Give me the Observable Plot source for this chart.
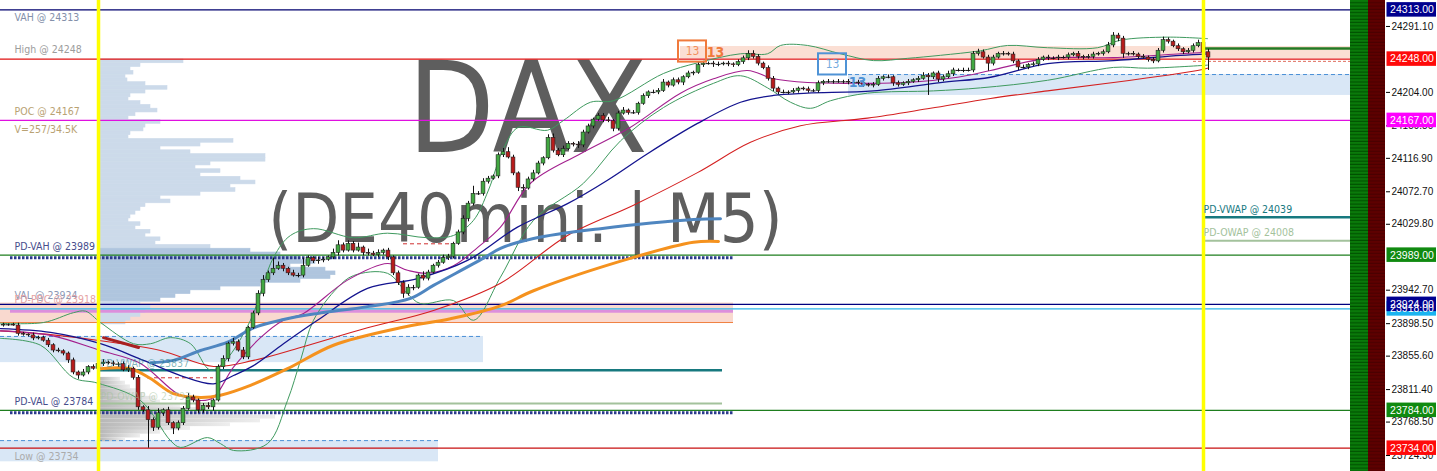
<!DOCTYPE html>
<html>
<head>
<meta charset="utf-8">
<script src="https://cdn.jsdelivr.net/npm/d3@7"></script>
<script src="https://cdn.jsdelivr.net/npm/@observablehq/plot@0.6"></script>
<style>
  html, body { margin: 0; padding: 0; background: #fff; overflow: hidden; }
  #chart svg { display: block; }
  #chart g[aria-label="y-axis tick label"], #chart g[aria-label="y-axis tick label"] text { font-family: 'Liberation Sans', Arial, sans-serif !important; font-size: 10px !important; }
  #chart .axbox, #chart .axbox text { font-family: 'Liberation Sans', Arial, sans-serif !important; font-size: 10.5px !important; }
</style>
</head>
<body>
<div id="chart"></div>
<script>
// ================= DATA =================
// M5 candles, bar index 0..241 ; closes in index points
const closes = [
  23897,23897,23896,23885,23884,23883,23879,23880,23876,23870,
  23863,23862,23859,23850,23834,23830,23834,23841,23839,23845,
  23847,23846,23845,23845,23837,23839,23827,23788,23784,23771,
  23761,23780,23784,23767,23760,23767,23786,23801,23797,23784,
  23790,23788,23797,23841,23852,23872,23874,23863,23854,23893,
  23912,23938,23956,23965,23971,23975,23971,23965,23962,23962,
  23975,23985,23981,23982,23983,23986,23992,24002,23995,24004,
  23995,23999,23992,23991,23989,23992,23995,23986,23965,23952,
  23938,23946,23946,23962,23958,23966,23975,23979,23985,23987,
  24004,24019,24037,24057,24070,24070,24086,24090,24093,24121,
  24125,24118,24097,24078,24077,24089,24097,24110,24117,24144,
  24127,24121,24129,24136,24135,24134,24151,24159,24168,24173,
  24167,24166,24156,24176,24180,24177,24177,24189,24199,24204,
  24204,24206,24217,24213,24220,24217,24224,24229,24230,24240,
  24242,24242,24241,24241,24242,24241,24240,24244,24249,24255,
  24251,24242,24236,24222,24209,24204,24204,24204,24206,24209,
  24208,24206,24206,24216,24218,24218,24218,24218,24218,24217,
  24217,24216,24214,24213,24214,24222,24224,24224,24216,24214,
  24216,24218,24220,24222,24226,24224,24229,24221,24224,24228,
  24233,24233,24233,24233,24255,24257,24250,24242,24250,24255,
  24255,24254,24245,24237,24237,24240,24241,24247,24250,24249,
  24249,24250,24250,24253,24255,24251,24250,24251,24254,24255,
  24257,24266,24279,24275,24255,24255,24254,24251,24250,24247,
  24245,24259,24273,24271,24265,24261,24257,24259,24265,24269,
  24257,24250
];
const firstOpen = 23896;
// wick lengths above / below the body, in index points
const wickUp = [
  2,1,2,3,2,1,3,2,2,3, 2,3,2,2,3,2,4,2,3,3, 4,2,3,2,3,4,2,3,2,5, 3,6,2,4,2,3,3,5,3,2,
  3,4,2,3,4,2,5,3,4,2, 3,4,6,3,14,5,3,2,4,3, 10,3,2,4,3,2,5,6,3,4, 3,6,2,5,3,4,2,3,2,3,
  3,4,3,2,5,3,2,3,4,3, 2,3,4,3,10,3,4,3,2,3, 5,6,3,2,4,3,4,3,2,4, 5,3,4,3,2,4,3,3,2,3,
  3,4,2,3,4,2,3,2,3,2, 3,3,4,2,3,3,2,3,2,3, 3,2,3,3,2,3,2,3,3,4, 4,3,2,3,3,2,3,2,3,2,
  2,3,2,3,2,3,2,3,2,3, 2,3,2,2,3,3,2,3,2,3, 2,3,2,3,4,3,2,3,3,4, 3,2,3,3,3,4,3,3,3,2,
  3,2,3,2,3,2,3,3,2,3, 2,3,2,3,2,3,2,3,3,2, 3,4,4,3,3,2,3,2,3,2, 3,3,4,3,2,3,2,3,3,4,
  10,4
];
const wickDn = [
  2,2,1,3,2,2,3,2,2,3, 3,2,3,4,3,5,2,3,2,3, 3,2,3,4,2,3,3,4,3,37, 5,3,4,3,8,3,3,2,3,4,
  4,3,5,2,3,4,3,2,3,3, 2,3,4,3,3,2,4,3,2,3, 3,2,3,4,3,2,3,4,3,2, 3,2,4,3,2,3,3,4,3,3,
  6,3,4,2,3,3,2,3,2,3, 3,2,3,4,3,2,3,3,2,3, 3,2,3,5,3,2,3,2,3,2, 3,2,3,2,3,4,3,2,3,2,
  3,2,4,3,2,3,2,3,2,3, 2,3,2,3,2,3,4,2,3,2, 3,2,4,3,2,3,3,2,3,3, 3,3,2,3,4,3,2,3,2,3,
  2,3,2,3,3,2,3,2,3,3, 2,3,3,2,3,2,3,2,4,3, 2,3,2,3,2,24,3,4,3,2, 3,2,3,2,3,3,2,10,3,2,
  3,2,3,4,2,3,2,3,2,3, 2,3,2,3,2,3,3,2,3,2, 3,2,3,4,6,3,2,3,2,3, 3,2,3,3,2,3,3,2,3,2,
  3,17
];

// session separators (bar index)
const sessionStarts = [19, 240];

// indicator lines: [bar index, price]
const emaNavy = [[-0.6,23892],[9.4,23887],[19.4,23872],[28,23850],[35.4,23830],[42,23819],[46,23830],[50,23843],[56,23872],[62.8,23903],[72.8,23945],[82.8,23958],[92.8,23982],[102.8,24026],[112.8,24057],[120.8,24088],[128.8,24123],[138.8,24163],[147.4,24191],[154,24200],[160.8,24203],[174,24206],[187.4,24217],[197.4,24224],[208.8,24242],[222,24246],[235.4,24253],[240.8,24255]];
const emaRed = [[-0.6,23889],[9.4,23884],[19.4,23876],[31.4,23863],[42,23842],[50,23850],[59.4,23867],[72.8,23893],[86,23916],[99.4,23952],[112.8,24015],[126,24055],[138.8,24098],[149.4,24138],[159.4,24160],[172.8,24170],[185.4,24183],[197.4,24196],[208.8,24206],[222,24217],[238.8,24233],[240.8,24236]];
const emaPurple = [[-0.6,23889],[9.4,23883],[19.4,23863],[27.4,23846],[34.8,23806],[39.4,23797],[42,23801],[46,23841],[51.4,23880],[56,23903],[60,23912],[68.8,23956],[76.8,23978],[80.8,23969],[84.8,23965],[90,23975],[94.8,23999],[99.4,24026],[105.4,24084],[115.4,24123],[125.4,24158],[135.4,24203],[142,24222],[148.8,24233],[154,24222],[160.8,24217],[170.8,24216],[180.8,24217],[190.8,24224],[197.4,24233],[208.8,24249],[222,24250],[235.4,24255],[240.8,24257]];
const bandUpper = [[-0.6,23899],[8,23900],[14,23913],[16.4,23915],[19.4,23900],[26,23872],[29.4,23872],[33.4,23880],[37.4,23872],[41.4,23837],[44.4,23850],[49.4,23903],[54,23986],[57.4,24015],[62,24024],[70,24012],[76.8,24018],[84.8,24012],[90,24015],[94,24035],[97,24075],[100,24130],[103,24158],[108.8,24154],[112,24167],[117.4,24191],[122,24193],[132,24229],[138.8,24243],[147.4,24255],[152.8,24255],[155.4,24266],[160.8,24266],[167.4,24255],[174,24246],[180.8,24249],[187.4,24253],[195.4,24259],[200.8,24266],[208.8,24263],[218.8,24263],[223.4,24273],[232.8,24277],[240.8,24275]];
const bandLower = [[-0.6,23879],[7.4,23870],[14,23827],[18.8,23820],[27.4,23797],[33.4,23744],[35.4,23735],[40.8,23748],[43.4,23740],[46,23731],[52.8,23740],[56.8,23797],[59.4,23850],[62,23903],[66.8,23946],[70,23962],[76.8,23965],[80.8,23938],[83.4,23925],[90,23929],[94,23903],[99.4,23960],[106,24035],[116,24084],[123.4,24140],[132,24184],[142,24216],[147.4,24226],[152.8,24210],[157.4,24191],[161.4,24183],[165.4,24193],[172.8,24203],[186,24206],[195.4,24210],[208.8,24220],[222,24237],[228.8,24236],[240.8,24240]];
const vwapOrange = [[19.4,23839],[25.4,23839],[29.4,23826],[34,23806],[39.4,23801],[43.4,23804],[49.4,23817],[56.8,23839],[66,23870],[79.4,23893],[89.4,23905],[99.4,23922],[106,23942],[126,23986],[138,24006],[143,24007]];
const vwapBlue = [[29.4,23847],[34,23850],[39.4,23863],[44.8,23874],[50,23893],[56,23904],[62.8,23912],[72.8,23921],[81.4,23932],[86,23949],[96,23985],[99.4,23998],[106,24011],[119.4,24024],[138,24036],[143.4,24037]];
const maroonSeg = [[20,23880],[27,23867]];

// key levels
const levelNames  = ["VAH", "High", "POC", "PD-VAH", "VAL", "PD-PDC", "PD-VAL", "Low"];
const levelPrices = [24313, 24248, 24167, 23989, 23924, 23918, 23784, 23734];
const pocVolumeText = "V=257/34.5K";
// previous-day VWAP / OWAP (left: prior session, right: current)
const pdNames = ["PD-VWAP", "PD-OWAP"];
const pdLeft  = [23837, 23793];
const pdRight = [24039, 24008];
// zones: [from bar, to bar (null = panel end), low, high]
const zoneKinds = ["supply", "demand", "demand", "demand", "pdc"];
const zoneFrom  = [135.4, 169, null, null, null];
const zoneTo    = [null, null, 96, 87, 146];
const zoneLow   = [24248.8, 24200, 23847, 23716, 23900];
const zoneHigh  = [24264.6, 24227.6, 23881.6, 23744, 23925.8];
// short dashed red references
const dashFrom = [80, 28.8], dashTo = [90.4, 42], dashPrice = [24004, 23827];
// TD "13" signals
const tdKinds = ["sell", "buy"];
const tdBoxIdx = [137.8, 165.8], tdBoxPrice = [24258, 24241];
const tdTagIdx = [142.4, 170.8], tdTagPrice = [24257, 24217];
// volume profile (bins of 5 points)
const profileTop = 24245, profileStep = 5;
const profileBlue = [83,40,30,33,25,27,45,67,45,30, 28,40,50,57,35,28,60,45,43,30,
  28,133,100,60,90,165,165,110,95,120, 100,140,155,130,135,100,60,70,45,40,
  35,30,28,40,35,50,45,60,55,110, 150,180,200,215,190,225,235,230,200,160,
  120,90,75,60,40,50,45,40,30,25];
const valueArea = [23930, 23995];
const profileGrayTop = 23825;
const profileGray = [20,25,30,38,45,55,60,80,110,150,175,160,130,90,60,40,25];
// price axis tick labels (visible ones)
const yTicks = [24291.1, 24204.0, 24159.8, 24116.9, 24072.7, 24029.8, 23942.7, 23898.5, 23855.6, 23811.4, 23768.5, 23724.3];
const boxOrder = ["VAH", "High", "POC", "PD-VAH", "PD-PDC", "VAL", "PD-VAL", "Low"];

// ================= STYLE / LAYOUT =================
const FONT = "'DejaVu Sans Condensed','DejaVu Sans',sans-serif";
const AXIS_FONT = "'Liberation Sans',Arial,sans-serif";
const PX = 5, X0 = -0.6;
const xAt = px => px / PX + X0;   // frame pixel -> bar units (decorations only)
const PANEL_END = xAt(1350), BAR1_END = xAt(1368), AXIS_X = xAt(1385), BOX_END = xAt(1437);
const PROFILE_X = xAt(100), PD_SEG_END = xAt(722), LEFT_SEG_END = xAt(733), DOT_START = xAt(10);
const lineColor = {"VAH":"#00006e","High":"#e01010","POC":"#e010e0","PD-VAH":"#1e7e1e","VAL":"#000080","PD-PDC":"#2cb6ea","PD-VAL":"#1e7e1e","Low":"#c81010"};
const boxColor  = {"VAH":"#00008e","High":"#ff0a0a","POC":"#ff00ff","PD-VAH":"#108a10","VAL":"#000090","PD-PDC":"#1ab4f0","PD-VAL":"#108a10","Low":"#ff0a0a"};
const labelColor= {"VAH":"#8490aa","High":"#9c9c9c","POC":"#b9a273","PD-VAH":"#474d8c","VAL":"#8c97b3","PD-PDC":"#e6a2a2","PD-VAL":"#474d8c","Low":"#ababab"};
const labelBelow = new Set(["VAH", "Low"]);
const zoneFill = {supply:"#fbdfd4", demand:"#d9e7f6", pdc:"#f9d9cf"};
const pdColor = {"PD-VWAP":"#17797f", "PD-OWAP":"#a3c29c"};
const tdColor = {sell:"#f07a3c", buy:"#4f93d6"};

// ================= DERIVED =================
const candles = closes.map((c, i) => {
  const o = i === 0 ? firstOpen : closes[i - 1];
  return {i, o, c, h: Math.max(o, c) + wickUp[i], l: Math.min(o, c) - wickDn[i]};
});
const levels = levelNames.map((name, k) => ({name, price: levelPrices[k], text: `${name} @ ${levelPrices[k]}`}));
const zones = zoneKinds.map((kind, k) => ({kind, x1: zoneFrom[k] ?? X0, x2: zoneTo[k] ?? PANEL_END, lo: zoneLow[k], hi: zoneHigh[k]}));
const pdL = pdNames.map((name, k) => ({name, price: pdLeft[k], text: `${name} @ ${pdLeft[k]}`}));
const pdR = pdNames.map((name, k) => ({name, price: pdRight[k], text: `${name} @ ${pdRight[k]}`}));
const dashes = dashPrice.map((p, k) => ({x1: dashFrom[k], x2: dashTo[k], p}));
const tdBoxes = tdKinds.map((kind, k) => ({kind, i: tdBoxIdx[k], p: tdBoxPrice[k]}));
const tdTags = tdKinds.map((kind, k) => ({kind, i: tdTagIdx[k], p: tdTagPrice[k]}));
const profB = profileBlue.map((v, k) => ({p: profileTop - k * profileStep, v}));
const profG = profileGray.map((v, k) => ({p: profileGrayTop - k * profileStep, v}));
const boxes = boxOrder.map(name => ({name, p: levelPrices[levelNames.indexOf(name)]}));
const pts = arr => arr.map(([i, p]) => ({i, p}));
const PH = 9.6; // half box height in price units
const profFill = d => d.p >= valueArea[0] && d.p <= valueArea[1] ? "#afc5de" : "#ccdaea";

const defs = () => {
  const d = d3.create("svg:defs");
  const g = d.append("pattern").attr("id", "gstripes").attr("patternUnits", "userSpaceOnUse").attr("width", 20).attr("height", 3.3);
  g.append("rect").attr("width", 20).attr("height", 3.3).attr("fill", "#0a7a0a");
  g.append("rect").attr("y", 2.2).attr("width", 20).attr("height", 1.1).attr("fill", "#005000");
  const r = d.append("pattern").attr("id", "rstripes").attr("patternUnits", "userSpaceOnUse").attr("width", 20).attr("height", 3.3);
  r.append("rect").attr("width", 20).attr("height", 3.3).attr("fill", "#5e0000");
  r.append("rect").attr("y", 2.2).attr("width", 20).attr("height", 1.1).attr("fill", "#4a0000");
  const gf = d.append("linearGradient").attr("id", "grayfade");
  gf.append("stop").attr("offset", "0%").attr("stop-color", "#b8b8b8");
  gf.append("stop").attr("offset", "100%").attr("stop-color", "#eeeeee");
  return d.node();
};

const chart = Plot.plot({
  width: 1437, height: 471,
  marginLeft: 0, marginRight: 52, marginTop: 0, marginBottom: 0,
  style: {fontFamily: FONT, fontSize: "10.5px", background: "#fff", overflow: "visible"},
  x: {domain: [X0, AXIS_X], axis: null},
  y: {domain: [23703.2, 24325.4]},
  marks: [
    defs,
    // zones
    Plot.rect(zones, {x1: "x1", x2: "x2", y1: "lo", y2: "hi", fill: d => zoneFill[d.kind]}),
    // volume profiles
    Plot.rect(profB, {x1: PROFILE_X, x2: d => PROFILE_X + d.v / PX, y1: d => d.p - profileStep / 2, y2: d => d.p + profileStep / 2,
      fill: profFill, stroke: profFill, strokeWidth: 0.6}),
    Plot.rect(profG, {x1: PROFILE_X, x2: d => PROFILE_X + d.v / PX, y1: d => d.p - profileStep / 2, y2: d => d.p + profileStep / 2, fill: "url(#grayfade)"}),
    // watermark
    Plot.text(["DAX"], {text: d => d, frameAnchor: "top-left", dx: 527, dy: 151, lineAnchor: "bottom", textAnchor: "middle", fontSize: 126, fill: "#5e5e5e"}),
    Plot.text(["(DE40mini. | M5)"], {text: d => d, frameAnchor: "top-left", dx: 525, dy: 241, lineAnchor: "bottom", textAnchor: "middle", fontSize: 68, fill: "#5e5e5e"}),
    // zone top dashed
    Plot.ruleY(zones.filter(d => d.kind === "demand"), {y: "hi", x1: "x1", x2: "x2", stroke: "#4a8fd6", strokeDasharray: "4,3"}),
    Plot.ruleY([23915], {x1: DOT_START, x2: LEFT_SEG_END, stroke: "#dc8fdc", strokeWidth: 3}),
    Plot.ruleY([23900], {x1: X0, x2: LEFT_SEG_END, stroke: "#f08040", strokeWidth: 1}),
    // key levels full width
    Plot.ruleY(levels, {y: "price", x1: X0, x2: PANEL_END, stroke: d => lineColor[d.name], strokeWidth: 1.2}),
    Plot.ruleY(levels.filter(d => d.name === "PD-VAH" || d.name === "PD-VAL"), {y: "price", dy: 2.5, x1: DOT_START, x2: LEFT_SEG_END, stroke: "#2b3a8c", strokeWidth: 3, strokeDasharray: "2.5,1.5"}),
    // previous-day VWAP / OWAP
    Plot.ruleY(pdL, {y: "price", x1: sessionStarts[0], x2: PD_SEG_END, stroke: d => pdColor[d.name], strokeWidth: d => d.name === "PD-VWAP" ? 2.5 : 2}),
    Plot.ruleY(pdR, {y: "price", x1: sessionStarts[1], x2: PANEL_END, stroke: d => pdColor[d.name], strokeWidth: d => d.name === "PD-VWAP" ? 2.5 : 2}),
    Plot.ruleY([closes[closes.length - 2] + 5], {x1: sessionStarts[1], x2: PANEL_END, stroke: "#237a23", strokeWidth: 2.5}),
    Plot.ruleY([24245], {x1: sessionStarts[1] - 2, x2: PANEL_END, stroke: "#e07060", strokeDasharray: "3,2"}),
    Plot.ruleY(dashes, {y: "p", x1: "x1", x2: "x2", stroke: "#d03030", strokeDasharray: "4,3"}),
    // indicators
    Plot.line(pts(bandUpper), {x: "i", y: "p", stroke: "#3f9a5f", strokeWidth: 1, curve: "catmull-rom"}),
    Plot.line(pts(bandLower), {x: "i", y: "p", stroke: "#3f9a5f", strokeWidth: 1, curve: "catmull-rom"}),
    Plot.line(pts(emaRed), {x: "i", y: "p", stroke: "#d42020", strokeWidth: 1.1, curve: "catmull-rom"}),
    Plot.line(pts(emaPurple), {x: "i", y: "p", stroke: "#a3208e", strokeWidth: 1.1, curve: "catmull-rom"}),
    Plot.line(pts(emaNavy), {x: "i", y: "p", stroke: "#14148f", strokeWidth: 1.3, curve: "catmull-rom"}),
    Plot.line(pts(vwapBlue), {x: "i", y: "p", stroke: "#4f86c0", strokeWidth: 3, curve: "catmull-rom"}),
    Plot.line(pts(vwapOrange), {x: "i", y: "p", stroke: "#f5921e", strokeWidth: 3, curve: "catmull-rom"}),
    Plot.line(pts(maroonSeg), {x: "i", y: "p", stroke: "#a82020", strokeWidth: 3}),
    // candles
    Plot.ruleX(candles, {x: "i", y1: "l", y2: "h", stroke: "#111", strokeWidth: 1}),
    Plot.rect(candles.filter(d => d.o !== d.c), {x1: d => d.i - 0.38, x2: d => d.i + 0.38, y1: "o", y2: "c",
      fill: d => d.c > d.o ? "#42a842" : "#b81c1c", stroke: "#222", strokeWidth: 0.6}),
    Plot.ruleY(candles.filter(d => d.o === d.c), {y: "c", x1: d => d.i - 0.5, x2: d => d.i + 0.5, stroke: "#111"}),
    // session separators
    Plot.ruleX(sessionStarts, {stroke: "#ffff00", strokeWidth: 3.5}),
    // level labels
    Plot.text(levels.filter(d => !labelBelow.has(d.name)), {y: "price", text: "text", frameAnchor: "left", dx: 14, dy: -9, textAnchor: "start", fill: d => labelColor[d.name], fontSize: 10.5}),
    Plot.text(levels.filter(d => labelBelow.has(d.name)), {y: "price", text: "text", frameAnchor: "left", dx: 14, dy: 8, textAnchor: "start", fill: d => labelColor[d.name], fontSize: 10.5}),
    Plot.text([pocVolumeText], {y: levelPrices[2], text: d => d, frameAnchor: "left", dx: 14, dy: 9, textAnchor: "start", fill: labelColor["POC"], fontSize: 10.5}),
    Plot.text(pdL, {y: "price", x: sessionStarts[0], text: "text", dx: 2, dy: -7, textAnchor: "start", fill: d => pdColor[d.name], fillOpacity: 0.55, fontSize: 10.5}),
    Plot.text(pdR, {y: "price", x: sessionStarts[1], text: "text", dx: 0, dy: -8, textAnchor: "start", fill: d => pdColor[d.name], fontSize: 10.5}),
    // TD 13 markers
    Plot.rect(tdBoxes, {x1: d => d.i - 2.8, x2: d => d.i + 2.8, y1: d => d.p - 14, y2: d => d.p + 14, fill: "none", stroke: d => tdColor[d.kind], strokeWidth: 2}),
    Plot.text(tdBoxes, {x: "i", y: "p", text: () => "13", fill: d => tdColor[d.kind], fillOpacity: 0.8, fontSize: 12}),
    Plot.text(tdTags, {x: "i", y: "p", text: () => "13", fill: d => tdColor[d.kind], fontSize: 14, fontWeight: "bold"}),
    // right side bars
    Plot.rect([0], {x1: PANEL_END, x2: BAR1_END, fill: "url(#gstripes)"}),
    Plot.rect([0], {x1: BAR1_END, x2: AXIS_X, fill: "url(#rstripes)"}),
    // price axis
    Plot.axisY(yTicks, {anchor: "right", tickSize: 4, tickPadding: 2, tickFormat: d => d.toFixed(2), fill: "#111", fontSize: 10, fontFamily: AXIS_FONT}),
    Plot.rect(boxes, {x1: AXIS_X + 0.3, x2: BOX_END - 0.2, y1: d => d.p - PH, y2: d => d.p + PH, fill: d => boxColor[d.name]}),
    Plot.text(boxes, {x: (AXIS_X + BOX_END) / 2 + 0.1, y: "p", text: d => d.p.toFixed(2), fill: "#fff", fontSize: 10.5, fontFamily: AXIS_FONT, className: "axbox"})
  ]
});
document.getElementById("chart").appendChild(chart);
</script>
</body>
</html>
